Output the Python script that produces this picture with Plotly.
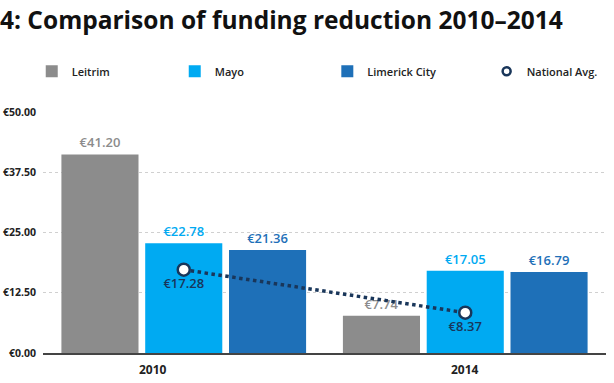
import plotly.graph_objects as go

years = ["2010", "2014"]
leitrim = [41.20, 7.74]
mayo = [22.78, 17.05]
limerick = [21.36, 16.79]
national = [17.28, 8.37]
y_ticks = [0, 12.5, 25, 37.5, 50]
y_tick_labels = ["€0.00", "€12.50", "€25.00", "€37.50", "€50.00"]

C_LEI = "#8c8c8c"
C_MAY = "#00aaf2"
C_LIM = "#1e70b8"
C_NAT = "#19365a"
FONT = "Open Sans"

fig = go.Figure()

def fmt(v):
    return [f"€{x:.2f}" for x in v]

for name, vals, col, leg in [("Leitrim", leitrim, C_LEI, "legend"),
                              ("Mayo", mayo, C_MAY, "legend2"),
                              ("Limerick City", limerick, C_LIM, "legend3")]:
    fig.add_trace(go.Bar(
        x=years, y=vals, name=name, marker=dict(color=col, line=dict(width=0)),
        text=fmt(vals), textposition="outside", cliponaxis=False,
        outsidetextfont=dict(family=FONT, size=13, color=col, weight=600),
        legend=leg,
    ))

fig.add_trace(go.Scatter(
    x=years, y=national, mode="lines+markers+text", name="National Avg.",
    line=dict(color=C_NAT, width=3.5, dash="dot"),
    marker=dict(symbol="circle", size=12, color="white", line=dict(color=C_NAT, width=2.5)),
    text=fmt(national), textposition="bottom center",
    textfont=dict(family=FONT, size=13, color=C_NAT, weight=600),
    showlegend=False, cliponaxis=False,
))
fig.add_trace(go.Scatter(
    x=[None], y=[None], mode="markers", name="National Avg.",
    marker=dict(symbol="circle", size=8, color="white", line=dict(color=C_NAT, width=2.5)),
    legend="legend4",
))

leg_common = dict(orientation="h", yanchor="middle", y=1.169, xanchor="left",
                  font=dict(family=FONT, size=11, color="#222", weight=600),
                  bgcolor="rgba(0,0,0,0)", itemwidth=30)
fig.update_layout(
    legend=dict(x=-0.020, **leg_common),
    legend2=dict(x=0.234, **leg_common),
    legend3=dict(x=0.505, **leg_common),
    legend4=dict(x=0.788, **leg_common),
)

xshifts = [-31, 0]
for i, (yr, xs) in enumerate(zip(years, xshifts)):
    fig.add_annotation(x=i, y=0, xref="x", yref="y", text=yr, showarrow=False,
                       yanchor="top", yshift=-6, xshift=xs,
                       font=dict(family=FONT, size=12, color="#222", weight=700))

fig.update_layout(
    width=614, height=383,
    margin=dict(l=43, r=8, t=112, b=30, autoexpand=False),
    paper_bgcolor="white", plot_bgcolor="white",
    title=dict(text="4: Comparison of funding reduction 2010–2014",
               xref="container", x=0, xanchor="left", y=0.947, yanchor="middle",
               font=dict(family=FONT, size=24.5, color="#111", weight=700)),
    barmode="group", bargap=0.107, bargroupgap=0.08,
    xaxis=dict(type="category", showticklabels=False, showgrid=False, range=[-0.5, 1.5],
               showline=True, linecolor="#444", linewidth=2, ticks=""),
    yaxis=dict(range=[0, 50], tickvals=y_ticks, ticktext=y_tick_labels,
               showgrid=True, gridcolor="#d0d0d0", griddash="dot", gridwidth=1,
               zeroline=False, showline=False, ticks="", ticklabelstandoff=6,
               tickfont=dict(family=FONT, size=10.5, color="#222", weight=700)),
    showlegend=True,
)

fig.write_html("out.html", post_script="document.body.style.margin='0px';",
               config={"displayModeBar": False})
